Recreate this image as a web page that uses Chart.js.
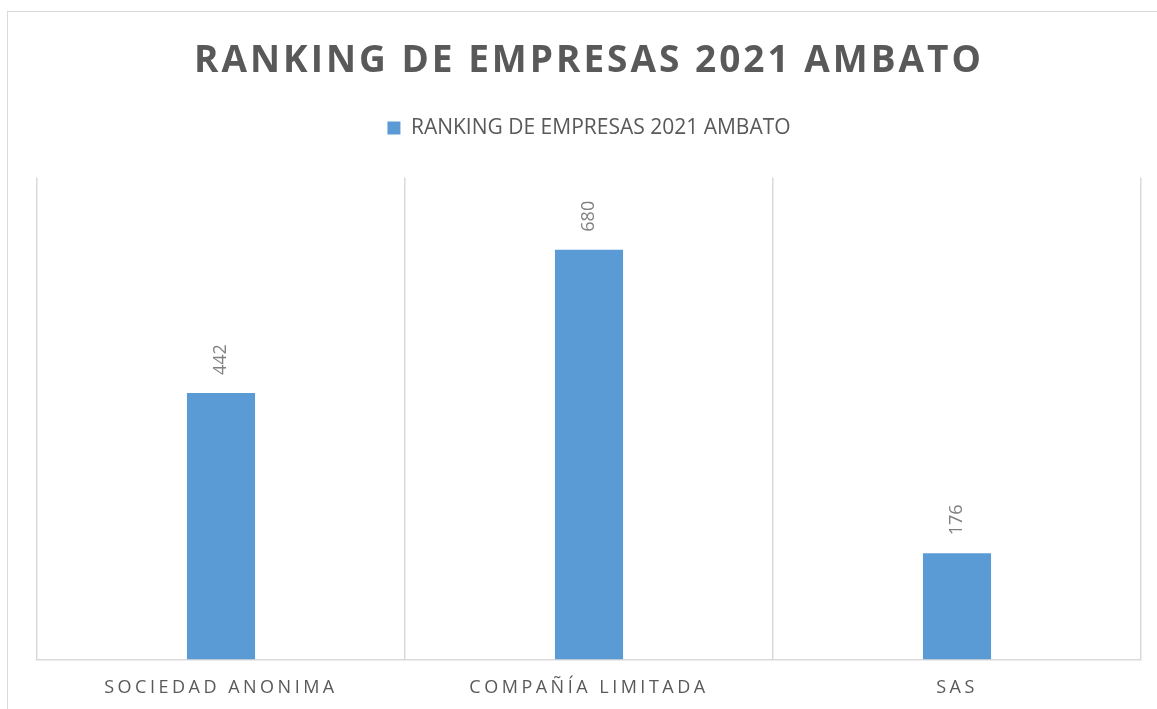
<!DOCTYPE html>
<html>
  <head>
    <meta charset="utf-8" />
    <title>Ranking de empresas 2021 Ambato</title>
    <script src="https://cdn.jsdelivr.net/npm/chart.js"></script>
    <style>
      html, body { margin: 0; padding: 0; background: #fff; overflow: hidden; }
      .frame {
        position: absolute; left: 7px; top: 11px; width: 1200px; height: 800px;
        border: 1.5px solid #d9d9d9; box-sizing: border-box;
      }
      #chart { position: absolute; left: 0; top: 0; }
    </style>
  </head>
  <body>
    <div class="frame"></div>
    <canvas id="chart" width="1157" height="709"></canvas>
    <script>
      var categories = ['SOCIEDAD ANONIMA', 'COMPAÑÍA LIMITADA', 'SAS'];
      var values = [442, 680, 176];
      var seriesName = 'RANKING DE EMPRESAS 2021 AMBATO';
      var chartTitle = 'RANKING DE EMPRESAS 2021 AMBATO';

      // canvas letterSpacing for title and category labels
      function spaced(obj, fn, ls) {
        if (!obj || obj['_sp_' + fn]) return;
        var orig = obj[fn];
        obj[fn] = function () {
          var c = this.ctx;
          c.save();
          c.letterSpacing = ls;
          orig.apply(this, arguments);
          c.restore();
        };
        obj['_sp_' + fn] = true;
      }

      var letterSpacing = {
        id: 'letterSpacing',
        beforeDraw: function (chart) {
          spaced(chart.titleBlock, 'draw', '3px');
          spaced(chart.scales.x, 'drawLabels', '3.5px');
        },
      };

      // extra room below the legend
      var legendGap = {
        id: 'legendGap',
        beforeInit: function (chart) {
          var lg = chart.legend;
          if (!lg) return;
          var fit = lg.fit;
          lg.fit = function () {
            fit.apply(this, arguments);
            this.height += 29;
          };
        },
      };

      var barLabels = {
        id: 'barLabels',
        afterDatasetsDraw: function (chart) {
          var ctx = chart.ctx;
          var meta = chart.getDatasetMeta(0);
          ctx.save();
          ctx.font = '18px "Open Sans"';
          ctx.fillStyle = '#808080';
          ctx.textAlign = 'left';
          ctx.textBaseline = 'middle';
          meta.data.forEach(function (bar, i) {
            ctx.save();
            ctx.translate(bar.x, bar.y - 18);
            ctx.rotate(-Math.PI / 2);
            ctx.fillText(String(values[i]), 0, 0);
            ctx.restore();
          });
          ctx.restore();
        },
      };

      var ctx = document.getElementById('chart').getContext('2d');

      var chart = new Chart(ctx, {
        type: 'bar',
        data: {
          labels: categories,
          datasets: [
            {
              label: seriesName,
              data: values,
              backgroundColor: '#5b9bd5',
              borderWidth: 0,
              barPercentage: 0.185,
              categoryPercentage: 1,
            },
          ],
        },
        options: {
          responsive: false,
          animation: false,
          layout: { padding: { left: 37, right: 16, top: 0, bottom: -8 } },
          plugins: {
            title: {
              display: true,
              text: chartTitle,
              color: '#595959',
              font: { family: '"Open Sans"', size: 37, weight: 'bold' },
              padding: { top: 39, bottom: 16 },
            },
            legend: {
              display: true,
              labels: {
                color: '#595959',
                font: { family: '"Open Sans"', size: 21 },
                boxWidth: 13,
                boxHeight: 13,
                padding: 18,
              },
            },
            tooltip: { enabled: false },
          },
          scales: {
            x: {
              grid: {
                offset: true,
                color: '#d9d9d9',
                lineWidth: 1.5,
                drawTicks: false,
              },
              border: { color: '#d9d9d9', width: 1.5 },
              ticks: {
                color: '#595959',
                font: { family: '"Open Sans"', size: 18 },
                padding: 18,
              },
            },
            y: {
              display: false,
              min: 0,
              max: 800,
            },
          },
        },
        plugins: [letterSpacing, legendGap, barLabels],
      });
    </script>
  </body>
</html>
